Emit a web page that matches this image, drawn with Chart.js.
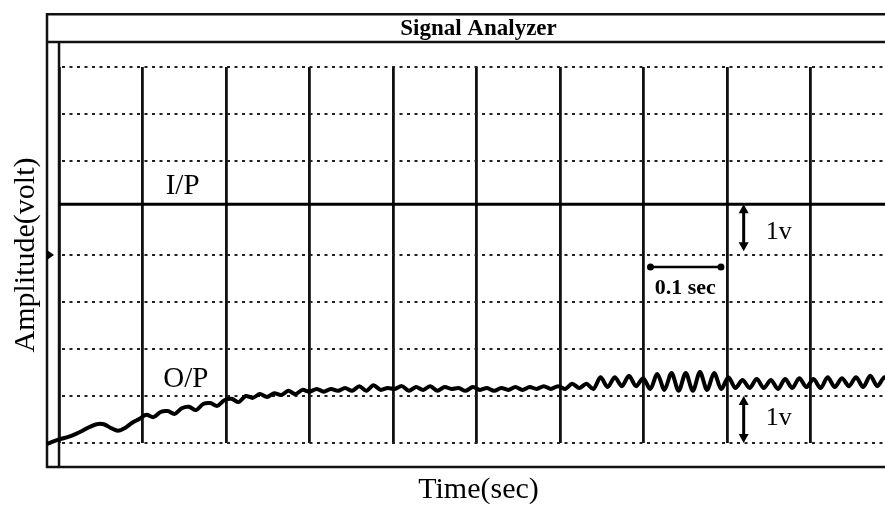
<!DOCTYPE html>
<html>
<head>
<meta charset="utf-8">
<title>Signal Analyzer</title>
<script src="https://cdn.jsdelivr.net/npm/chart.js@4.4.1/dist/chart.umd.min.js"></script>
<style>
  html, body { margin: 0; padding: 0; background: #fff; overflow: hidden; }
  canvas { display: block; }
</style>
</head>
<body>
<canvas id="analyzerChart" width="910" height="506"></canvas>
<script>
// O/P trace in volts, one sample every 8.5 ms, starting just left of t = 0
const opStartSec = -0.0144;
const opStepSec = 0.0085;
const opVolts = [
  -0.02, 0.04, 0.09, 0.13, 0.19, 0.26, 0.34, 0.40, 0.40, 0.32,
  0.26, 0.32, 0.43, 0.51, 0.60, 0.55, 0.66, 0.68, 0.62, 0.74,
  0.77, 0.70, 0.83, 0.85, 0.79, 0.91, 0.94, 0.87, 1.00, 0.96,
  1.04, 0.98, 1.06, 1.02, 1.11, 1.04, 1.13, 1.09, 1.15, 1.09,
  1.15, 1.11, 1.17, 1.11, 1.21, 1.11, 1.23, 1.13, 1.17, 1.15,
  1.21, 1.11, 1.19, 1.13, 1.21, 1.11, 1.19, 1.15, 1.17, 1.11,
  1.19, 1.13, 1.17, 1.11, 1.17, 1.13, 1.19, 1.13, 1.19, 1.15,
  1.21, 1.15, 1.21, 1.15, 1.26, 1.17, 1.26, 1.15, 1.40, 1.19,
  1.40, 1.21, 1.43, 1.21, 1.38, 1.15, 1.47, 1.13, 1.49, 1.11,
  1.49, 1.11, 1.51, 1.13, 1.49, 1.15, 1.40, 1.17, 1.34, 1.17,
  1.36, 1.17, 1.34, 1.15, 1.36, 1.17, 1.38, 1.19, 1.36, 1.17,
  1.40, 1.19, 1.38, 1.21, 1.40, 1.19, 1.43, 1.21, 1.40, 1.21,
  1.38, 1.21
];

// I/P step level, flat over the sweep
const ipTimeSec = [0, 1.02];
const ipVolts = [5.08, 5.08];

// sweep window: 0.1 s per division, 1 v per division
const timeRange = [-0.0144, 1.0192];
const voltRange = [0, 8];
const timeDiv = 0.1;
const voltDiv = 1;

const serif = '"Liberation Serif", "Times New Roman", serif';

const opPoints = opVolts.map((v, i) => ({ x: opStartSec + i * opStepSec, y: v }));
const ipPoints = ipTimeSec.map((t, i) => ({ x: t, y: ipVolts[i] }));

function arrowHead(ctx, x, y, dx, dy) {
  const len = 9, half = 5;
  ctx.beginPath();
  ctx.moveTo(x, y);
  ctx.lineTo(x - dx * len - dy * half, y - dy * len + dx * half);
  ctx.lineTo(x - dx * len + dy * half, y - dy * len - dx * half);
  ctx.closePath();
  ctx.fill();
}

function vArrow(ctx, x, y1, y2) {
  ctx.beginPath();
  ctx.moveTo(x, y1 + 4);
  ctx.lineTo(x, y2 - 4);
  ctx.stroke();
  arrowHead(ctx, x, y1, 0, -1);
  arrowHead(ctx, x, y2, 0, 1);
}

// window frame, title bar and the scale markers drawn on top of the grid
const analyzerFrame = {
  id: 'analyzerFrame',
  beforeDatasetsDraw(chart) {
    const { ctx, chartArea, scales: { x, y } } = chart;
    const outerX = chartArea.left;
    const innerX = x.getPixelForValue(0);
    const right = chartArea.right;
    const topY = y.getPixelForValue(9.12);
    const barY = y.getPixelForValue(8.53);
    const bottomY = y.getPixelForValue(-0.51);

    ctx.save();
    ctx.fillStyle = '#fff';
    ctx.fillRect(outerX, barY, innerX - outerX, bottomY - barY);

    ctx.strokeStyle = '#111';
    ctx.lineWidth = 2.5;
    ctx.beginPath();
    ctx.moveTo(right, topY);
    ctx.lineTo(outerX, topY);
    ctx.lineTo(outerX, bottomY);
    ctx.lineTo(right, bottomY);
    ctx.moveTo(outerX, barY);
    ctx.lineTo(right, barY);
    ctx.moveTo(innerX, barY);
    ctx.lineTo(innerX, bottomY);
    ctx.stroke();

    // channel zero marker on the left edge
    const my = y.getPixelForValue(4);
    ctx.fillStyle = '#000';
    ctx.beginPath();
    ctx.moveTo(outerX, my - 5);
    ctx.lineTo(outerX + 7, my);
    ctx.lineTo(outerX, my + 5);
    ctx.closePath();
    ctx.fill();

    ctx.font = 'bold 23px ' + serif;
    ctx.textAlign = 'center';
    ctx.textBaseline = 'middle';
    ctx.fillText('Signal Analyzer', (outerX + right) / 2, (topY + barY) / 2 + 1);
    ctx.restore();
  },
  afterDatasetsDraw(chart) {
    const { ctx, scales: { x, y } } = chart;
    ctx.save();
    ctx.fillStyle = '#000';
    ctx.strokeStyle = '#000';
    ctx.lineWidth = 3;
    ctx.textAlign = 'center';
    ctx.textBaseline = 'middle';

    ctx.font = '29px ' + serif;
    ctx.fillText('I/P', x.getPixelForValue(0.148), y.getPixelForValue(5.47));
    ctx.fillText('O/P', x.getPixelForValue(0.152), y.getPixelForValue(1.36));

    // 1 v per division markers
    const ax = x.getPixelForValue(0.82);
    vArrow(ctx, ax, y.getPixelForValue(ipVolts[0]), y.getPixelForValue(ipVolts[0] - voltDiv));
    vArrow(ctx, ax, y.getPixelForValue(voltDiv), y.getPixelForValue(0));
    ctx.font = '26px ' + serif;
    ctx.fillText('1v', x.getPixelForValue(0.862), y.getPixelForValue(4.49));
    ctx.fillText('1v', x.getPixelForValue(0.862), y.getPixelForValue(0.53));

    // 0.1 s per division marker
    const hx1 = x.getPixelForValue(0.7) + 7;
    const hx2 = x.getPixelForValue(0.7 + timeDiv) - 6;
    const hy = y.getPixelForValue(3.745);
    ctx.lineWidth = 2.5;
    ctx.beginPath();
    ctx.moveTo(hx1, hy);
    ctx.lineTo(hx2, hy);
    ctx.stroke();
    [hx1, hx2].forEach(px => {
      ctx.beginPath();
      ctx.arc(px, hy, 3.5, 0, Math.PI * 2);
      ctx.fill();
    });
    ctx.font = 'bold 22px ' + serif;
    ctx.fillText('0.1 sec', x.getPixelForValue(0.75), y.getPixelForValue(3.3));
    ctx.restore();
  }
};

const ctx = document.getElementById('analyzerChart').getContext('2d');
const analyzerChart = new Chart(ctx, {
  type: 'line',
  data: {
    datasets: [
      {
        label: 'I/P',
        data: ipPoints,
        borderColor: '#000',
        borderWidth: 3,
        pointRadius: 0,
        tension: 0
      },
      {
        label: 'O/P',
        data: opPoints,
        borderColor: '#000',
        borderWidth: 4,
        pointRadius: 0,
        tension: 0.3,
        clip: false
      }
    ]
  },
  options: {
    responsive: false,
    animation: false,
    layout: { padding: { left: 0, top: 67, right: 0, bottom: 0 } },
    plugins: {
      legend: { display: false },
      tooltip: { enabled: false }
    },
    scales: {
      x: {
        type: 'linear',
        min: timeRange[0],
        max: timeRange[1],
        ticks: { display: false, stepSize: timeDiv, includeBounds: false, maxTicksLimit: 20 },
        grid: { color: '#111', lineWidth: 2.8, drawTicks: false },
        border: { display: false },
        title: {
          display: true,
          text: 'Time(sec)',
          color: '#000',
          font: { family: serif, size: 30, lineHeight: 1 },
          padding: { top: 32, bottom: 1 }
        }
      },
      y: {
        type: 'linear',
        min: voltRange[0],
        max: voltRange[1],
        ticks: { display: false, stepSize: voltDiv },
        grid: {
          // the I/P trace sits on the fifth division, so that dotted line stays hidden
          color: c => (c.tick && c.tick.value === 5 ? 'rgba(0,0,0,0)' : '#222'),
          lineWidth: 2,
          drawTicks: false
        },
        border: { display: false, dash: [3, 4.5] },
        title: {
          display: true,
          text: 'Amplitude(volt)',
          color: '#000',
          font: { family: serif, size: 30, lineHeight: 1 },
          padding: { top: 11.5, bottom: 5.5 }
        }
      }
    }
  },
  plugins: [analyzerFrame]
});
</script>
</body>
</html>
